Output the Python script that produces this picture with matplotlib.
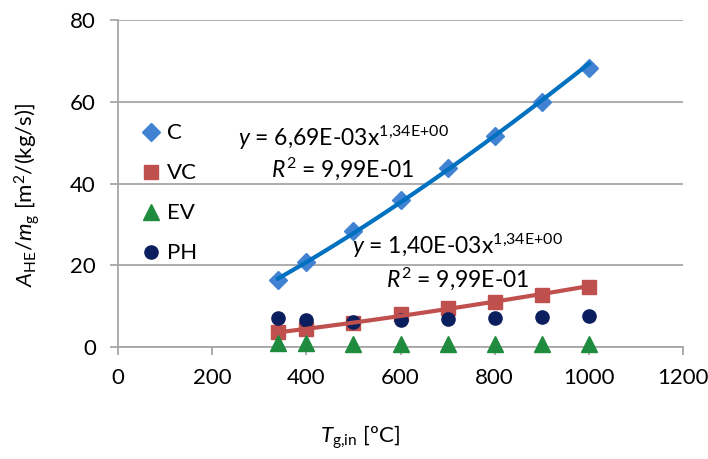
import numpy as np
import matplotlib
matplotlib.use('Agg')
import matplotlib.pyplot as plt

plt.rcParams['font.family'] = ['Lato', 'DejaVu Sans']
plt.rcParams['mathtext.fontset'] = 'custom'
plt.rcParams['mathtext.rm'] = 'Lato'
plt.rcParams['mathtext.it'] = 'Lato:italic'

# data
t_in = [340, 400, 500, 600, 700, 800, 900, 1000]
c_vals = [16.4, 20.7, 28.4, 36.0, 43.9, 51.6, 59.9, 68.2]
vc_vals = [3.6, 4.3, 5.9, 8.0, 9.6, 11.1, 12.7, 14.6]
ev_vals = [1.0, 0.9, 0.85, 0.8, 0.75, 0.7, 0.7, 0.65]
ph_vals = [7.2, 6.6, 6.2, 6.6, 6.8, 7.0, 7.3, 7.6]

c_eq = ['$\\mathit{y}$ = 6,69E-03x$^{\\mathrm{1{,}34E{+}00}}$', '$\\mathit{R}^2$ = 9,99E-01']
vc_eq = ['$\\mathit{y}$ = 1,40E-03x$^{\\mathrm{1{,}34E{+}00}}$', '$\\mathit{R}^2$ = 9,99E-01']

c_line = '#0070C0'
c_mark = '#4282D2'
vc_col = '#C0504D'
ev_col = '#1E8B3E'
ph_col = '#0B1F5E'

fig = plt.figure(figsize=(7.08, 4.59), dpi=100)
ax = fig.add_axes([0.1667, 0.244, 0.798, 0.7124])

x = np.array(t_in, dtype=float)


def power_trend(xs, ys):
    # power-law trendline fit on the data (log-log)
    b, la = np.polyfit(np.log(xs), np.log(ys), 1)
    xx = np.linspace(xs.min(), xs.max(), 100)
    return xx, np.exp(la) * xx ** b


# markers first, trendlines on top (as excel draws them)
ax.plot(x, c_vals, 'D', color=c_mark, ms=9.5, label='C', zorder=3)
ax.plot(x, vc_vals, 's', color=vc_col, ms=10, label='VC', zorder=3)
ax.plot(x, ev_vals, '^', color=ev_col, ms=11, label='EV', zorder=3,
        clip_on=False)
ax.plot(x, ph_vals, 'o', color=ph_col, ms=9.5, label='PH', zorder=4)

xx, yy = power_trend(x, np.array(c_vals))
ax.plot(xx, yy, color=c_line, lw=3, zorder=5)
xx, yy = power_trend(x, np.array(vc_vals))
ax.plot(xx, yy, color=vc_col, lw=3, zorder=5)

ax.text(478, 49.2, c_eq[0], fontsize=16.5, ha='center', va='baseline')
ax.text(478, 41.6, c_eq[1], fontsize=16.5, ha='center', va='baseline')
ax.text(722, 22.7, vc_eq[0], fontsize=16.5, ha='center', va='baseline')
ax.text(722, 14.6, vc_eq[1], fontsize=16.5, ha='center', va='baseline')

ax.set_xlim(0, 1200)
ax.set_ylim(0, 80)
ax.set_xticks(range(0, 1201, 200))
ax.set_yticks(range(0, 81, 20))
ax.grid(axis='y', color='#A6A6A6', lw=1.3)
ax.set_axisbelow(True)
for s in ['top', 'right']:
    ax.spines[s].set_visible(False)
for s in ['left', 'bottom']:
    ax.spines[s].set_color('#A6A6A6')
    ax.spines[s].set_linewidth(1.3)
ax.tick_params(colors='#A6A6A6', labelcolor='black', labelsize=16,
               length=6, width=1.3)
ax.tick_params(axis='x', pad=9)
ax.tick_params(axis='y', pad=10)

ax.set_xlabel('$\\mathit{T}_{\\mathrm{g{,}in}}$ [ºC]', fontsize=16)
ax.xaxis.set_label_coords(0.428, -0.235)
ax.set_ylabel('$\\mathit{A}_{\\mathrm{HE}}/\\mathit{m}_{\\mathrm{g}}$ [m$^2$/(kg/s)]',
              fontsize=16)
ax.yaxis.set_label_coords(-0.135, 0.465)

ax.legend(loc='upper left', bbox_to_anchor=(0.0, 0.745), frameon=False,
          fontsize=16, labelspacing=0.9, handletextpad=0.1,
          handlelength=1.2, numpoints=1)

fig.savefig('out.png', dpi=100)
